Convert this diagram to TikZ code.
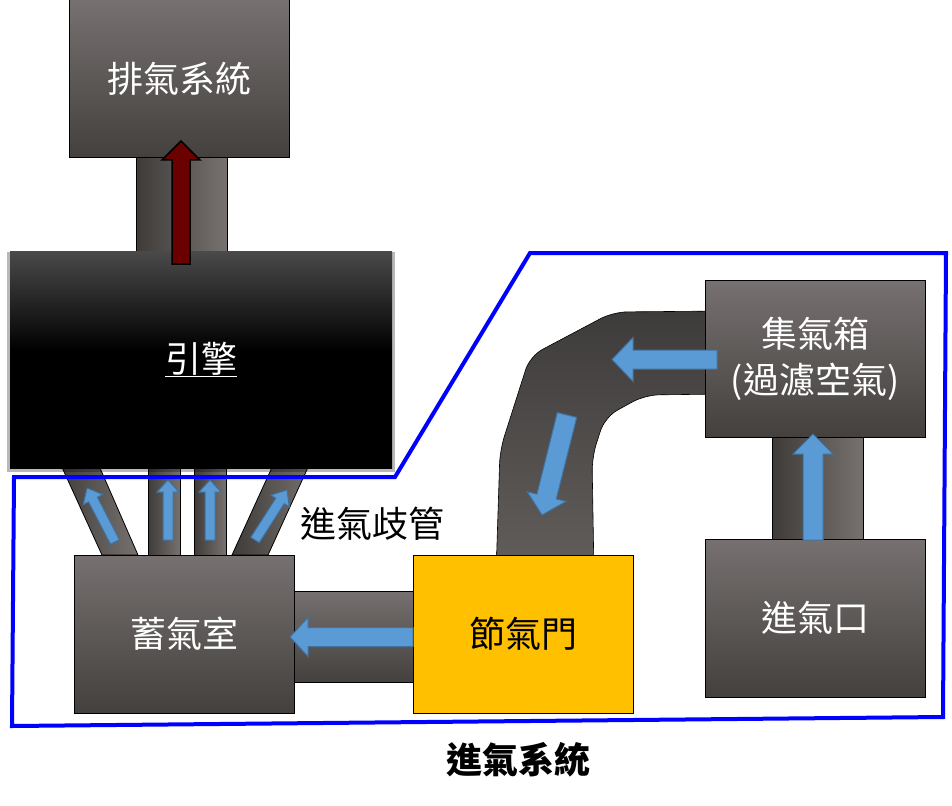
\documentclass[tikz,border=0pt]{standalone}
\usepackage{fontspec}
\setmainfont{Noto Sans CJK TC}
\usetikzlibrary{shadows}
\definecolor{boxtop}{HTML}{767170}
\definecolor{boxbot}{HTML}{43403E}
\definecolor{pipedark}{HTML}{3E3B39}
\definecolor{pipelight}{HTML}{777270}
\definecolor{curvetop}{HTML}{3E3C3B}
\definecolor{curvebot}{HTML}{625E5C}
\definecolor{flowblue}{HTML}{5B9BD5}
\definecolor{flowedge}{HTML}{41719C}
\definecolor{exred}{HTML}{6B0000}
\definecolor{throttle}{HTML}{FFC000}
\definecolor{sysblue}{HTML}{0000FF}
\definecolor{enginetop}{HTML}{4A4A4A}
\pgfdeclareverticalshading{engineshade}{100bp}{color(0bp)=(black); color(25bp)=(black); color(52bp)=(black); color(75bp)=(enginetop); color(100bp)=(enginetop)}
\newcommand\blockarrow[8]{%
  \pgfmathsetmacro\baang{atan2(-(#5-#3),#4-#2)}%
  \pgfmathsetmacro\balen{veclen(#4-#2,#5-#3)}%
  \draw[#1, shift={(#2,#3)}, rotate=\baang] (0,-#6) -- (\balen-#8,-#6) -- (\balen-#8,-#7) -- (\balen,0) -- (\balen-#8,#7) -- (\balen-#8,#6) -- (0,#6) -- cycle;%
}
\tikzset{
  box/.style={draw=black, line width=1pt, top color=boxtop, bottom color=boxbot,
    minimum width=220pt, minimum height=158pt, inner sep=0pt, text=white,
    font=\fontsize{36}{46}\selectfont, align=center},
  vpipe/.style={draw=black, line width=0.8pt, left color=pipedark, right color=pipelight},
  hpipe/.style={draw=black, line width=0.8pt, top color=boxtop, bottom color=boxbot},
  curvepipe/.style={draw=black, line width=0.6pt, top color=curvetop, bottom color=curvebot},
  flow/.style={fill=flowblue, draw=flowedge, line width=1pt, line join=miter},
  exhflow/.style={fill=exred, draw=black, line width=1.5pt, line join=miter},
  label/.style={font=\fontsize{36}{46}\selectfont, text=black, inner sep=0pt},
}
\begin{document}
\begin{tikzpicture}[x=1pt,y=-1pt]
\useasboundingbox (0,0) rectangle (952,805);

% pipes
\draw[vpipe] (136,150) rectangle (227,255);
\draw[vpipe] (772,430) rectangle (863,545);
\draw[hpipe] (290,591) rectangle (418,682);
\draw[curvepipe, rounded corners=14pt] (725,311) -- (613,312) -- (530,356) -- (500,450) -- (496,575) -- (594,575) -- (592,457) -- (605,417) -- (645,395) -- (725,394) -- cycle;

% runners
\draw[vpipe] (55,452) -- (93,452) -- (138,555) -- (102,555) -- cycle;
\draw[vpipe] (148,452) rectangle (180,555);
\draw[vpipe] (194,452) rectangle (226,555);
\draw[vpipe] (279,452) -- (315,452) -- (268,555) -- (232,555) -- cycle;

% boxes
\node[box] (exhaust) at (179,79) {排氣系統};
\node[draw=none, minimum width=382pt, minimum height=217pt, inner sep=0pt, shading=engineshade,
  text=white, font=\fontsize{36}{46}\selectfont,
  general shadow={fill=black, opacity=0.28, shadow scale=1.014, shadow yshift=-2pt}] (engine) at (201,359.5) {\underline{引擎}};
\node[box] (plenum) at (184.5,634) {蓄氣室};
\node[box, top color=throttle, bottom color=throttle, text=black] (throttlebody) at (523,634) {節氣門};
\node[box, minimum height=157pt] (collector) at (815,359) {集氣箱\\(過濾空氣)};
\node[box] (intake) at (815,618) {進氣口};

% labels
\node[label] (manifoldlabel) at (372,524) {進氣歧管};
\node[label, font=\fontsize{36}{46}\selectfont\bfseries] (systemlabel) at (518,760) {進氣系統};

% intake system boundary
\draw[sysblue, line width=4pt, line join=miter] (530,253) -- (946,253) -- (943,717) -- (12,726) -- (14,477) -- (395,477) -- cycle;

% flow arrows
\blockarrow{exhflow}{181}{264}{181}{141}{9}{19}{19}
\blockarrow{flow}{115}{542}{87}{488}{5}{11}{13}
\blockarrow{flow}{168}{540}{168}{480}{5}{11}{12}
\blockarrow{flow}{210}{540}{210}{480}{5}{11}{12}
\blockarrow{flow}{255}{540}{287}{490}{5}{11}{13}
\blockarrow{flow}{413}{637}{290}{637}{9.5}{19.5}{18}
\blockarrow{flow}{813}{540}{813}{434}{10}{20}{20}
\blockarrow{flow}{717}{359.5}{612}{359.5}{9.5}{22}{21}
\blockarrow{flow}{567}{415}{542}{515}{10}{20}{19}
\end{tikzpicture}
\end{document}
